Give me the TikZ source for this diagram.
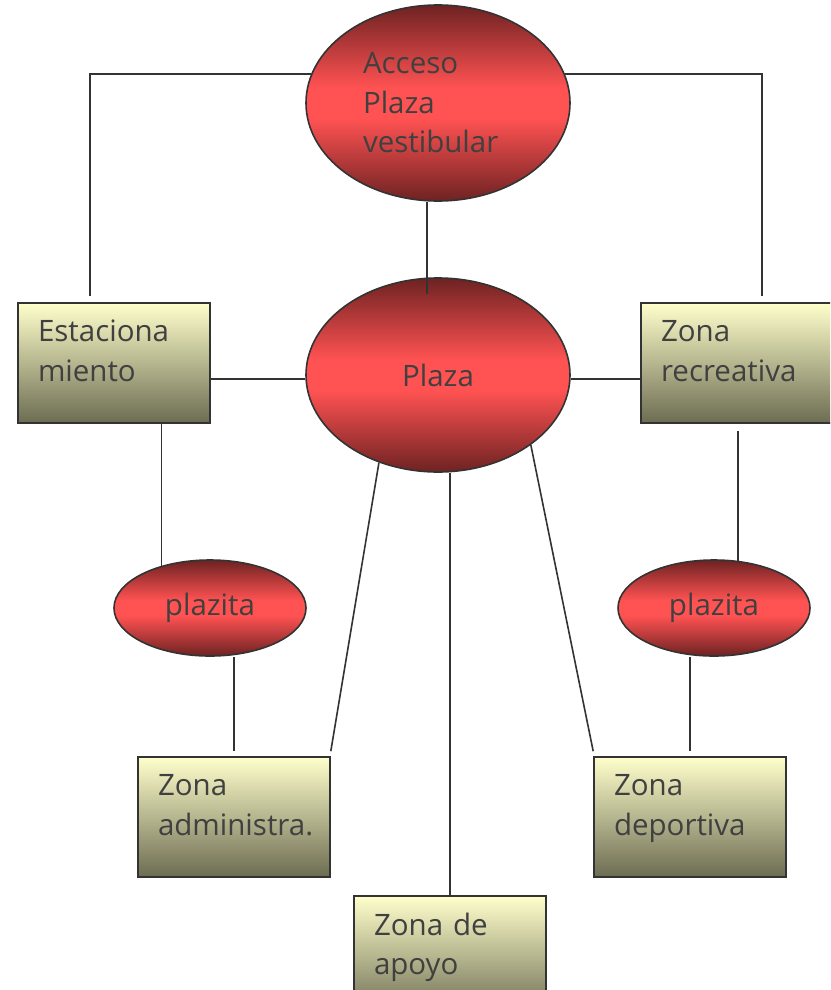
\documentclass[tikz,border=0pt]{standalone}
\usepackage{fontspec}
\setmainfont{Open Sans}
\usetikzlibrary{shapes.geometric}

\definecolor{rojoosc}{HTML}{6E2222}
\definecolor{rojoclaro}{HTML}{FF5252}
\definecolor{crema}{HTML}{FFFFCC}
\definecolor{oliva}{HTML}{6C6C52}
\definecolor{trazo}{HTML}{333333}
\definecolor{letra}{HTML}{404040}

\pgfdeclareverticalshading{esfera}{100bp}{color(0bp)=(rojoosc);
  color(25bp)=(rojoosc); color(46bp)=(rojoclaro); color(54bp)=(rojoclaro);
  color(75bp)=(rojoosc); color(100bp)=(rojoosc)}

\begin{document}
\begin{tikzpicture}[x=1pt, y=-1pt,
    zona/.style={rectangle, draw=trazo, line width=1.6pt,
      top color=crema, bottom color=oliva,
      minimum width=192pt, minimum height=120pt, text width=152pt,
      text depth=64pt, align=left, text=letra,
      font=\fontsize{29.5}{39.5}\selectfont},
    espacio/.style={ellipse, draw=trazo, line width=1.6pt, shading=esfera,
      minimum width=264pt, minimum height=196pt, align=left,
      text=letra, font=\fontsize{29.5}{39.5}\selectfont},
    plazita/.style={espacio, minimum width=192pt, minimum height=96pt},
    linea/.style={draw=trazo, line width=1.6pt}
  ]
    \useasboundingbox (0,0) rectangle (830,990);
    \clip (0,0) rectangle (830,990);

    % Espacios
    \node[espacio, text width=150pt] (acceso) at (438,103)
      {Acceso\\Plaza\\vestibular};
    \node[espacio, minimum height=194pt] (plaza) at (438,375) {Plaza};
    \node[plazita] (plazitaizq) at (210,608) {plazita};
    \node[plazita] (plazitader) at (714,608) {plazita};

    % Zonas
    \node[zona] (estac) at (114,363) {Estaciona\\miento};
    \node[zona] (recre) at (737,363) {Zona\\recreativa};
    \node[zona] (admin) at (234,817) {Zona\\administra.};
    \node[zona] (deport) at (690,817) {Zona\\deportiva};
    \node[zona] (apoyo) at (450,956) {Zona de\\apoyo};

    % Conexiones
    \draw[linea] (acceso.167) -| ([xshift=-24pt, yshift=6pt]estac.north);
    \draw[linea] (acceso.13) -| ([xshift=25pt, yshift=6pt]recre.north);
    \draw[linea] ([xshift=-11pt]acceso.south)
      -- ([xshift=-11pt, yshift=-17pt]plaza.north);
    \draw[linea] ([yshift=-4pt]plaza.west) -- ([yshift=-4pt]plaza.west -| estac.east);
    \draw[linea] ([yshift=-4pt]plaza.east) -- ([yshift=-4pt]plaza.east -| recre.west);
    \draw[linea] (plazitaizq.139) -- (plazitaizq.139 |- estac.south);
    \draw[linea] (plazitader.63) -- ([yshift=-7pt]plazitader.63 |- recre.south);
    \draw[linea] ([yshift=5pt]admin.north) -- (admin.north |- plazitaizq.south);
    \draw[linea] ([yshift=5pt]deport.north) -- (deport.north |- plazitader.south);
    \draw[linea] (plaza.236) -- ([yshift=5pt]admin.north east);
    \draw[linea] (plaza.-37) -- ([yshift=5pt]deport.north west);
    \draw[linea] (apoyo.north) -- (apoyo.north |- plaza.south);
  \end{tikzpicture}
\end{document}
